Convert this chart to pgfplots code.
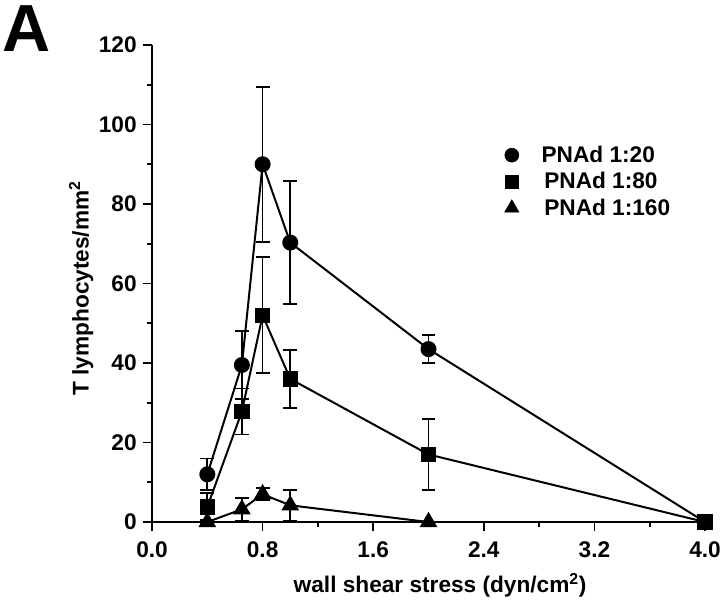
\documentclass[border=0pt]{standalone}
\usepackage{fontspec}
\setmainfont{Liberation Sans}
\usepackage{pgfplots}
\pgfplotsset{compat=1.18}
\begin{document}
\begin{tikzpicture}
\begin{axis}[
  scale only axis,
  width=415pt, height=358pt,
  xmin=0, xmax=4.0, ymin=0, ymax=120,
  clip=false,
  axis lines=left,
  axis line style={-, line width=1.3pt},
  tick align=outside,
  major tick length=7pt, minor tick length=4pt,
  every tick/.style={line width=1.3pt, black},
  xtick={0,0.8,1.6,2.4,3.2,4.0},
  minor xtick={0.4,1.2,2.0,2.8,3.6},
  ytick={0,20,40,60,80,100,120},
  minor ytick={10,30,50,70,90,110},
  /pgf/number format/assume math mode=true,
  xticklabel style={/pgf/number format/.cd, fixed, fixed zerofill, precision=1, /tikz/.cd, yshift=-4pt},
  yticklabel style={/pgf/number format/.cd, fixed, precision=0, /tikz/.cd, xshift=-1pt},
  tick label style={font=\fontsize{17}{19}\selectfont\bfseries},
  label style={font=\fontsize{17}{19}\selectfont\bfseries},
  xlabel={wall shear stress (dyn/cm\textsuperscript{2})},
  ylabel={T lymphocytes/mm\textsuperscript{2}},
  xlabel style={at={(rel axis cs:0.521,-0.132)}, anchor=center},
  ylabel style={at={(rel axis cs:-0.128,0.49)}, anchor=center},
  legend style={draw=none, fill=none, at={(rel axis cs:0.63,0.80)}, anchor=north west,
    font=\fontsize{17}{19}\selectfont\bfseries, row sep=2pt,
    legend cell align=left},
  error bars/error bar style={line width=1.3pt, black},
  error bars/error mark options={rotate=90, mark size=5.2pt, line width=1.3pt, black},
]
\addlegendimage{black, only marks, mark=*, mark size=5.25pt}
\addlegendentry{\hspace{15pt}PNAd 1:20}
\addlegendimage{black, only marks, mark=square*, mark size=5pt}
\addlegendentry{\hspace{17pt}PNAd 1:80}
\addlegendimage{black, only marks, mark=triangle*, mark size=6.2pt}
\addlegendentry{\hspace{17pt}PNAd 1:160}

\addplot[black, line width=1.5pt, mark=*, mark size=5.25pt, mark options={fill=black, solid}, error bars/.cd, y dir=both, y explicit]
  table[x=x, y=y, y error=e] {
x y e
0.4 12 4
0.65 39.5 8.5
0.8 90 19.5
1.0 70.3 15.5
2.0 43.5 3.5
4.0 0 0
};
\addplot[black, line width=1.5pt, mark=square*, mark size=5pt, mark options={fill=black, solid}, error bars/.cd, y dir=both, y explicit]
  table[x=x, y=y, y error=e] {
x y e
0.4 3.8 3.5
0.65 27.8 5.8
0.8 52 14.6
1.0 36 7.3
2.0 17 9
4.0 0 0
};
\addplot[black, line width=1.5pt, mark=triangle*, mark size=6.2pt, mark options={fill=black, solid}, error bars/.cd, y dir=both, y explicit]
  table[x=x, y=y, y error=e] {
x y e
0.4 0 0.5
0.65 3.2 2.8
0.8 7 1.5
1.0 4.2 3.8
2.0 0 0
};
\node[anchor=north west, inner sep=0pt, font=\fontsize{50}{50}\selectfont\bfseries] at (rel axis cs:-0.271,1.084) {A};
\coordinate (bbl) at (rel axis cs:-0.2749,-0.1803);
\coordinate (btr) at (rel axis cs:1.0271,1.0943);
\end{axis}
\pgfresetboundingbox
\useasboundingbox (bbl) rectangle (btr);
\end{tikzpicture}
\end{document}
